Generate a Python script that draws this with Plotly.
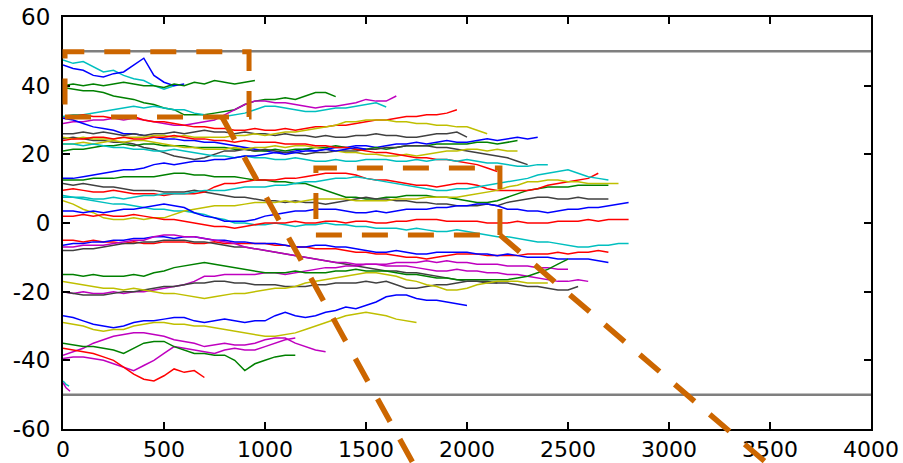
import plotly.graph_objects as go

# ---------------- data (y values sampled every 50 x-units) ----------------
STEP = 50
BLUE, GREEN, RED, CYAN, MAGENTA, YELLOW, GRAY = (
    "#0000FF", "#008000", "#FF0000", "#00BFBF", "#BF00BF", "#BFBF00", "#404040")

c1 = [47.5, 46.5, 47, 45.5, 44, 44.5, 43, 42, 41.5, 40, 39, 40]
b1 = [46, 45, 44.5, 43, 42.5, 43.5, 44, 46, 48, 43, 41, 40, 40.5]
g1 = [40, 40.5, 40, 40.5, 40, 40.5, 41, 40.5, 40, 40, 39.5, 40.5, 40, 41, 40.5, 41.5, 41, 40.5, 41, 41.5]
g2 = [39.5, 39, 38.5, 38.5, 38, 37, 36.5, 36, 35, 34.5, 33.5, 33, 31.5, 31.5, 31.5, 32, 32.5, 33, 34.5,
      35.5, 36, 36, 36.5, 36, 37, 38, 38, 36.8]
m1 = [29, 29.5, 29.5, 30, 30, 30.5, 30, 30.5, 30, 29.5, 29, 28.5, 28.5, 29, 29.5, 30, 31.5, 33, 34.5, 35.5,
      35.5, 35, 35, 34.5, 34, 33.5, 34, 34, 34.5, 35, 36, 35.5, 35.5, 37]
c2 = [31, 31.5, 31.5, 32, 32.5, 33, 33.5, 34, 33.5, 34, 33.5, 33, 33, 32, 31.5, 30.5, 31, 31.5, 32, 33, 34,
      34, 33.5, 33, 32.5, 32.5, 33, 33.5, 33.5, 34, 34.5, 35, 33.8]
r1 = [30.5, 31, 31.5, 31, 31, 30.5, 30.5, 31, 30, 29.5, 29.5, 29, 28.5, 28, 28, 27.5, 27.5, 27, 27, 27.5,
      27, 27, 27.5, 27, 27.5, 28, 28, 28.5, 28.5, 29, 29.5, 30, 30, 30.5, 31, 31, 31.5, 31.5, 32, 33]
b2 = [30.5, 30, 29, 28, 27.5, 27, 26, 26, 25.5, 25, 24.5, 24.5, 24, 24, 23.5, 23.5, 23, 22.5, 22, 21.5, 21,
      20.5, 20.5, 21, 21.5, 21, 21.5, 22, 22, 22.5, 22.5, 22, 22.5, 23, 23, 23.5, 23, 23.5, 24, 23.5, 23.5,
      24, 24.5, 24, 24.5, 25, 24.5, 25]
g3 = [21, 21.5, 21.5, 22, 22.5, 22.5, 23, 22.5, 23, 23, 22.5, 22.5, 22.5, 22, 22, 22, 22, 21.5, 21.5, 21,
      21, 21.5, 21, 21.5, 21.5, 22, 22, 22.5, 22, 21.5, 21.5, 22, 21.5, 22, 22.5, 22.5, 22.5, 23, 23, 23,
      23, 23.5, 23.5, 23, 23.5, 24]
k1 = [26, 26, 26.5, 26, 26.5, 26, 25.5, 26, 25.5, 26, 26, 26.5, 26, 26.5, 27, 26.5, 26.5, 26, 26.5, 26, 26,
      25.5, 26, 25.5, 25.5, 25, 25.5, 25, 25, 25.5, 25.5, 26, 25.5, 25.5, 25, 25, 25.5, 26, 26, 26.5, 25]
k2 = [24.5, 25, 24.5, 24, 24, 23.5, 23.5, 23, 22, 21.5, 20.5, 19.5, 19, 18.5, 19, 20, 21, 21, 21.5, 21,
      21.5, 21, 20.5, 20.5, 20, 20.5, 20.5, 21, 21, 21, 21.5, 21.5, 22, 22, 22.5, 22.5, 22.5, 22, 22, 21.5,
      21, 20.5, 20, 19.5, 19, 18, 17]
y1 = [25, 24.5, 25, 24.5, 24.5, 24.5, 25, 25, 25, 25.5, 25.5, 25, 25.5, 25, 25, 25, 25, 25.5, 25.5, 26,
      25.5, 26, 26.5, 26.5, 27, 27.5, 28, 28.5, 29.5, 29.5, 30, 30, 30, 29.5, 29.5, 29, 29, 28.5, 28.5, 28,
      28, 27, 26]
y2 = [23, 23, 23.5, 23, 23.5, 24, 23.5, 24, 24, 23.5, 23, 22.5, 22, 22, 21.5, 21.5, 21.5, 22, 21.5, 22, 22,
      22.5, 22, 22.5, 22.5, 22, 21.5, 21, 20.5, 20.5, 20, 20, 19.5, 19.5, 20, 19.5, 20, 20.5, 21, 21, 21.5,
      21.5, 21, 21.5, 21, 21]
r2 = [24, 24.5, 24.5, 25, 25, 24.5, 25, 24.5, 24.5, 25, 25, 25.5, 25, 24.5, 24.5, 24, 24, 23.5, 24, 23.5,
      23.5, 23.5, 23, 23, 23, 22.5, 22.5, 22, 22, 21.5, 21, 20.5, 20.5, 20, 19.5, 19, 19, 18.5, 18.5, 18,
      17.5, 17, 16, 15]
c3 = [23, 23, 22.5, 23, 22.5, 22, 22, 21.5, 21.5, 21, 21, 21.5, 21, 20.5, 20, 19.5, 19.5, 19, 19.5, 19, 19,
      18.5, 18.5, 19, 18.5, 18, 18, 18.5, 18, 18, 18.5, 18.5, 18.5, 18, 18, 18.5, 18, 18.5, 18.5, 18, 18.5,
      18, 17.5, 17.5, 17, 16.5, 16.5, 17, 17]
b3 = [13, 13, 13.5, 14, 14.5, 15, 15.5, 15.5, 16, 17, 17.5, 17, 17.5, 18, 18, 18.5, 18.5, 19, 19.5, 19.5,
      20, 20.5, 20, 20.5, 21, 21, 21.5, 21, 21.5, 22, 21.5]
g4 = [12.5, 12.5, 12.5, 13, 13, 13, 13.5, 13.5, 13.5, 13.5, 14, 14.5, 14.5, 14, 14, 13.5, 13.5, 13.5, 13,
      12.5, 12.5, 12, 12, 11.5, 11.5, 10.5, 9.5, 8.5, 7.5, 7.5, 7, 7, 7.5, 7.5, 8, 8, 8, 7.5, 7.5, 7, 6.5,
      6, 6, 6.5, 7.5, 8.5, 9.5, 10, 10.5, 10.5, 10.5, 11, 11, 11, 11]
k3 = [11.5, 11, 11.5, 11, 10.5, 10.5, 10, 9.5, 9.5, 9.5, 9, 9, 9, 9.5, 9, 8.5, 8, 7.5, 7.5, 7, 6.5, 6.5, 6,
      6.5, 6, 6, 5.5, 6, 6.5, 7, 7.5, 7, 7, 6.5, 6.5, 6, 6, 5.5, 5.5, 5, 5, 5, 5.5, 5, 6, 6.5, 7, 7.5, 7.5,
      7, 7, 7.5, 7, 7, 7]
r3 = [9.5, 10, 9.5, 9, 9, 9.5, 9, 8.5, 8.5, 8.5, 8, 8.5, 8.5, 8.5, 9, 10.5, 11.5, 11.5, 12, 12.5, 12.5,
      12.5, 13, 13, 13.5, 14, 14.5, 14.5, 14.5, 14, 13, 12.5, 12.5, 12, 11.5, 11, 11, 10.5, 11, 11.5, 11.5,
      11, 10, 9.5, 9.5, 9.5, 9.5, 10, 11, 11.5, 12, 12.5, 13, 14.5]
c4 = [7.5, 7.5, 7, 6.5, 6, 5.5, 5.5, 5, 4.5, 4, 4, 3.5, 3.5, 3, 2.5, 1.5, 1, 0, 0, -0.5, -0.5, 0, -0.5, -1,
      -0.5, -0.5, 0, -0.5, -0.5, -1, -1, -1.5, -1.5, -1.5, -2, -1.5, -2, -2.5, -2.5, -2, -2.5, -3, -3.5, -4,
      -4, -4.5, -5, -5.5, -5.5, -6, -6.5, -7, -7, -6.5, -6.5, -6, -6]
c5 = [8, 7.5, 7.5, 7, 7, 7.5, 7, 7.5, 8, 8, 8.5, 8.5, 8.5, 9, 9.5, 9.5, 9.5, 10, 10.5, 10.5, 10.5, 11, 11,
      11.5, 12, 12, 12.5, 13, 13, 13.5, 13, 12.5, 12, 11.5, 11, 10.5, 10, 9.5, 9.5, 10, 10, 10.5, 11, 11.5,
      12, 12.5, 13, 14, 14.5, 15, 15.5, 14.5, 13.5, 13, 12.5]
y3 = [6.5, 5.5, 4, 3, 1.5, 1, 1, 1.5, 1, 1.5, 1.5, 2.5, 3.5, 4, 4.5, 5, 5, 5, 5.5, 6, 6, 6, 6.5, 6, 6.5, 7,
      7, 7, 7, 6.5, 6.5, 6.5, 6.5, 7, 7, 7, 7.5, 7.5, 7.5, 7.5, 8, 8.5, 9, 9.5, 10.5, 11, 12, 12, 12.5,
      12.5, 12, 12, 11.5, 11.5, 11.5, 11.5]
b4 = [3.5, 3.5, 3, 3.5, 3, 3.5, 4, 4, 4.5, 5, 5.5, 5, 4.5, 3, 2, 1.5, 0.5, 0.5, 0.5, 1, 2, 2.5, 3, 3.5,
      3.5, 4, 4, 4, 3.5, 3, 3, 3.5, 3, 3.5, 4, 4, 4, 4.5, 4.5, 5, 5, 5.5, 5.5, 5, 4, 4, 3.5, 3.5, 3, 3.5, 4,
      4, 4.5, 4.5, 5, 5.5, 6]
r4 = [2, 2, 2.5, 2, 2.5, 2, 2, 2.5, 2, 1.5, 1, 1, 0.5, 0, -0.5, -1, -1, -1.5, -1, -0.5, 0, 0, 0, 0.5, 0, 0,
      0.5, 0.5, 0, 0.5, 0.5, 0, 0, 0.5, 0.5, 1, 1, 1, 0.5, 0.5, 0.5, 0.5, 0, 0, 0, 0.5, 0, 0, 0, 0.5, 0.5,
      0.5, 1, 0.5, 1, 1, 1]
r5 = [-5, -5, -5.5, -5, -5.5, -5.5, -6, -5.5, -6, -6, -5.5, -5.5, -5.5, -6, -6, -5.5, -6, -6, -6, -6, -6,
      -6.5, -6.5, -7, -7, -7.5, -7.5, -7.5, -8, -8.5, -8.5, -9, -9, -9.5, -10, -10, -10.5, -10, -9.5, -9,
      -9, -9, -9.5, -9.5, -9.5, -9.5, -9, -9, -9, -8.5, -9, -8.5, -8.5, -8, -8.5]
b5 = [-6.5, -6, -6, -5.5, -5.5, -5, -5, -4.5, -4.5, -4, -4, -4.5, -4, -4, -4.5, -5, -5, -5.5, -5.5, -6, -6,
      -6, -6.5, -7, -7, -6.5, -6.5, -7, -7, -7.5, -8, -8.5, -8.5, -8, -8.5, -9, -9, -8.5, -8.5, -8.5, -8.5,
      -9, -9, -9.5, -9, -9.5, -10, -10, -10, -10.5, -10.5, -10.5, -10.5, -11, -11.5]
k4 = [-8, -8, -7.5, -7.5, -7, -6.5, -6, -6, -5.5, -5.5, -5, -5, -5, -5.5, -5.5, -6, -6.5, -7, -7, -7.5, -8,
      -8.5, -9, -9.5, -10, -10.5, -11, -11.5, -12, -12.5, -13, -13.5, -14, -14, -14.5, -14.5, -15, -15.5,
      -16, -16.5, -17, -17, -17, -17.5, -17.5, -18, -18.5, -18.5, -19, -19.5, -19.5, -18.5]
m2 = [-7, -7, -6.5, -6.5, -6.5, -6, -5.5, -5, -5, -4, -3.5, -3.5, -4, -4, -4.5, -5, -5.5, -6, -7, -7.5,
      -8, -8.5, -9, -9.5, -10, -10.5, -11, -11.5, -11.5, -12, -12, -12, -12.5, -12.5, -12.5, -13, -13.5,
      -14, -14, -13.5, -14, -14, -14.5, -14.5, -15, -15, -15.5, -16, -16.5, -17, -17, -16.5, -17]
m3 = [-20, -20.5, -20, -20.5, -20.5, -20, -20.5, -20, -20, -19.5, -19, -18.5, -18, -17, -15.5, -15.5, -15,
      -15, -15, -15, -14.5, -14.5, -15, -14.5, -14, -13.5, -13, -13, -12.5, -12.5, -12, -12, -12, -11.5,
      -11.5, -11.5, -11, -11.5, -11, -11.5, -11.5, -12, -12, -12, -12.5, -12.5, -12.5, -13, -13, -13.5,
      -13.5]
g5 = [-15, -15, -15.5, -15, -15.5, -15.5, -15.5, -15, -15.5, -14.5, -14, -13, -12.5, -12, -11.5, -12,
      -12.5, -13, -13.5, -14, -14.5, -14.5, -14.5, -14, -14.5, -14.5, -14.5, -14, -14, -13.5, -14, -14,
      -14, -14.5, -15, -15, -15.5, -16, -16, -16.5, -16.5, -16.5, -16.5, -16.5, -16.5, -16, -15.5, -14.5,
      -13.5, -12, -10.5]
k5 = [-20, -20.5, -21, -21, -21, -20.5, -20, -20, -19.5, -19, -18.5, -18.5, -18, -17.5, -17.5, -17, -17,
      -17.5, -17.5, -18, -18, -18, -18.5, -18.5, -18.5, -18, -18, -17.5, -17.5, -17.5, -17, -17.5, -17,
      -18, -19, -19, -18.5, -18, -18, -17.5, -17, -17, -17.5, -17.5]
y4 = [-17, -17.5, -18, -18.5, -19, -19, -19.5, -19, -19.5, -20, -20.5, -20.5, -21, -21.5, -22, -21.5, -21,
      -20.5, -20.5, -20, -19.5, -19, -19, -18.5, -17.5, -17, -16.5, -16, -15.5, -15, -14.5, -14.5, -15,
      -15.5, -16.5, -17, -18, -18.5, -19.5, -19.5, -19, -18, -17.5, -17, -17, -17, -17.5, -17.5, -17.5]
b6 = [-27, -27.5, -28.5, -29.5, -30, -30.5, -30, -29, -28.5, -28.5, -28, -27.5, -27.5, -28.5, -29, -28.5,
      -28, -28.5, -29, -28.5, -28.5, -27, -26, -27, -27.5, -27, -26, -25.5, -24.5, -25, -24, -23, -21.5,
      -21, -21, -22, -22.5, -22.5, -23, -23.5, -24]
y5 = [-29, -29.5, -30, -31, -31.5, -31, -31, -30, -29.5, -29, -29, -29.5, -29.5, -30, -30, -30.5, -31,
      -31.5, -32, -32.5, -33, -33, -32.5, -32, -31, -30, -29, -28, -27, -26.5, -26, -26.5, -27, -28, -28.5,
      -29]
m4 = [-38.5, -37.5, -36.5, -35, -34, -33, -32.5, -32, -32, -32.5, -33, -34, -34.5, -35, -36, -35.5, -35,
      -35.5, -35.5, -35, -34, -33.5, -33.5, -35, -36, -37, -37.5]
m5 = [-39.5, -39, -39, -39.5, -40, -41, -42, -43, -41.5, -40, -38, -36, -36.5, -37, -37.5, -38, -37, -36.5,
      -37, -37, -36, -35, -34, -33.5]
g6 = [-35, -35.5, -36, -36, -36.5, -37, -38, -36.5, -35, -34.5, -34.5, -36, -37, -38, -38, -38.5, -38.5,
      -40, -43, -41, -40, -39, -38.5, -38.5]
r6 = [-36.5, -37, -37.5, -38, -39, -40, -42, -44, -45.5, -46, -44.5, -42.5, -43.5, -43, -45]

# two very short paths at the lower-left corner (explicit x)
c6_x = [0, 15, 30]
c6_y = [-46, -47, -47.5]
m6_x = [0, 15, 35]
m6_y = [-46.5, -48, -49]

series = [
    (c1, CYAN), (b1, BLUE), (g1, GREEN), (g2, GREEN), (m1, MAGENTA), (c2, CYAN), (r1, RED),
    (b2, BLUE), (g3, GREEN), (k1, GRAY), (k2, GRAY), (y1, YELLOW), (y2, YELLOW), (r2, RED),
    (c3, CYAN), (b3, BLUE), (g4, GREEN), (k3, GRAY), (r3, RED), (c4, CYAN), (c5, CYAN),
    (y3, YELLOW), (b4, BLUE), (r4, RED), (r5, RED), (b5, BLUE), (k4, GRAY), (m2, MAGENTA),
    (m3, MAGENTA), (g5, GREEN), (k5, GRAY), (y4, YELLOW), (b6, BLUE), (y5, YELLOW),
    (m4, MAGENTA), (m5, MAGENTA), (g6, GREEN), (r6, RED),
]

boundaries = [50, -50]
x_range = [0, 4000]
y_range = [-60, 60]
x_ticks = [0, 500, 1000, 1500, 2000, 2500, 3000, 3500, 4000]
y_ticks = [-60, -40, -20, 0, 20, 40, 60]
y_ticktext = ["-60", "-40", "-20", "0", "20", "40", "60"]

# zoom boxes and connector lines (data units)
rect1 = (10, 30.9, 921, 49.9)
rect2 = (1252, -3.5, 2163, 16)
conn1 = ((787, 30.9), (1752, -72))
conn2 = ((2163, -3.5), (3525, -72))

# ---------------- figure ----------------
fig = go.Figure()
for ys, col in series:
    fig.add_trace(go.Scatter(x=[i * STEP for i in range(len(ys))], y=ys, mode="lines",
                             line=dict(color=col, width=1.5), hoverinfo="skip"))
fig.add_trace(go.Scatter(x=c6_x, y=c6_y, mode="lines", line=dict(color=CYAN, width=1.5)))
fig.add_trace(go.Scatter(x=m6_x, y=m6_y, mode="lines", line=dict(color=MAGENTA, width=1.5)))
for b in boundaries:
    fig.add_trace(go.Scatter(x=x_range, y=[b, b], mode="lines",
                             line=dict(color="#7f7f7f", width=2.5)))


def px(x):
    return (x - x_range[0]) / (x_range[1] - x_range[0])


def py(y):
    return (y - y_range[0]) / (y_range[1] - y_range[0])


ORANGE = "#CC6600"
shapes = []
for (x0, y0, x1, y1) in (rect1, rect2):
    shapes.append(dict(type="rect", xref="paper", yref="paper",
                       x0=px(x0), x1=px(x1), y0=py(y0), y1=py(y1),
                       line=dict(color=ORANGE, width=5, dash="26px,20px"), layer="above"))
for (a, b) in (conn1, conn2):
    shapes.append(dict(type="line", xref="paper", yref="paper",
                       x0=px(a[0]), y0=py(a[1]), x1=px(b[0]), y1=py(b[1]),
                       line=dict(color=ORANGE, width=5.5, dash="26px,20px"), layer="above"))

axis_common = dict(showline=True, linecolor="black", linewidth=2, mirror="ticks",
                   ticks="inside", ticklen=7, tickwidth=1.5, tickcolor="black",
                   showgrid=False, zeroline=False, automargin=False)

fig.update_layout(
    width=903, height=463,
    margin=dict(l=63, r=32, t=17, b=34),
    paper_bgcolor="white", plot_bgcolor="white",
    showlegend=False,
    shapes=shapes,
    xaxis=dict(range=x_range, tickvals=x_ticks, ticklabelstandoff=0,
               tickfont=dict(family="DejaVu Sans", size=22, color="black"), **axis_common),
    yaxis=dict(range=y_range, tickvals=y_ticks, ticktext=y_ticktext, ticklabelstandoff=6,
               tickfont=dict(family="DejaVu Sans", size=23, color="black"), **axis_common),
)

fig.write_html("out.html")
